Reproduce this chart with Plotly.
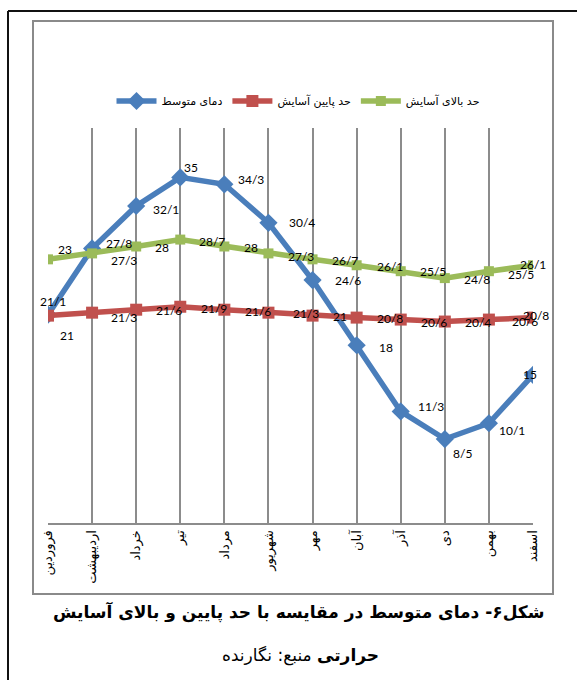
import plotly.graph_objects as go

# ---------------- data ----------------
months = ["فروردین", "اردیبهشت", "خرداد", "تیر", "مرداد", "شهریور",
          "مهر", "آبان", "آذر", "دی", "بهمن", "اسفند"]
mean_temp = [21.1, 27.8, 32.1, 35, 34.3, 30.4, 24.6, 18, 11.3, 8.5, 10.1, 15]
lower_comfort = [21, 21.3, 21.6, 21.9, 21.6, 21.3, 21, 20.8, 20.6, 20.4, 20.6, 20.8]
upper_comfort = [26.7, 27.3, 28, 28.7, 28, 27.3, 26.7, 26.1, 25.5, 24.8, 25.5, 26.1]

mean_labels = ["21/1", "27/8", "32/1", "35", "34/3", "30/4", "24/6", "18", "11/3", "8/5", "10/1", "15"]
lower_labels = ["21", "21/3", "21/6", "21/9", "21/6", "21/3", "21", "20/8", "20/6", "20/4", "20/6", "20/8"]
upper_labels = ["23", "27/3", "28", "28/7", "28", "27/3", "26/7", "26/1", "25/5", "24/8", "25/5", "26/1"]

series_names = ["دمای متوسط", "حد پایین آسایش", "حد بالای آسایش"]
caption_line1 = "شکل۶- دمای متوسط در مقایسه با حد پایین و بالای آسایش"
caption_line2 = "<b>حرارتی</b> منبع: نگارنده"

# ---------------- styles / positions ----------------
W, H = 577, 680
PL, PR, PT, PB = 48, 533, 128, 523  # plot area in pixels


def px(x):
    return (x - PL) / (PR - PL)


def py(y):
    return (PB - y) / (PB - PT)


BLUE, RED, GREEN = "#4A7EBB", "#C0504D", "#9BBB59"
GRID = "#8C8C8C"
AR_FONT = "DejaVu Sans"
NUM_FONT = "Lato"

# label offsets (dx, dy) in pixels from each point (dy positive = down)
mean_off = [(5, -13), (27, -5), (30, 3), (11, -10), (27, -5), (34, 0),
            (35, 0), (29, 2), (30, -5), (18, 14), (23, 7), (-3, 0)]
lower_off = [(19, 20), (32, 5), (33, 1), (34, 2), (34, 2), (38, 1),
             (27, 1), (33, 1), (33, 3), (33, 1), (36, 2), (3, -2)]
upper_off = [(17, -10), (32, 7), (26, 1), (32, 2), (27, 1), (33, 3),
             (32, 1), (33, 1), (32, 0), (32, 1), (32, 3), (0, -1)]

fig = go.Figure()
fig.add_trace(go.Scatter(x=months, y=mean_temp, name=series_names[0], mode="lines+markers",
                         line=dict(color=BLUE, width=5.5),
                         marker=dict(symbol="diamond", size=14, color=BLUE)))
fig.add_trace(go.Scatter(x=months, y=lower_comfort, name=series_names[1], mode="lines+markers",
                         line=dict(color=RED, width=5.5),
                         marker=dict(symbol="square", size=12, color=RED)))
fig.add_trace(go.Scatter(x=months, y=upper_comfort, name=series_names[2], mode="lines+markers",
                         line=dict(color=GREEN, width=5.5),
                         marker=dict(symbol="square", size=10, color=GREEN)))

annotations = []
for vals, labs, offs in [(upper_comfort, upper_labels, upper_off),
                         (lower_comfort, lower_labels, lower_off),
                         (mean_temp, mean_labels, mean_off)]:
    for m, v, t, (dx, dy) in zip(months, vals, labs, offs):
        annotations.append(dict(x=m, y=v, xref="x", yref="y", text=t, showarrow=False,
                                xshift=dx, yshift=-dy,
                                font=dict(family=NUM_FONT, size=12, color="#000")))

annotations.append(dict(x=px(298), y=py(612), xref="paper", yref="paper", text="<b>" + caption_line1 + "</b>",
                        showarrow=False, xanchor="center", yanchor="middle",
                        font=dict(family=AR_FONT, size=17, color="#000")))
annotations.append(dict(x=px(300), y=py(655), xref="paper", yref="paper", text=caption_line2,
                        showarrow=False, xanchor="center", yanchor="middle",
                        font=dict(family=AR_FONT, size=17, color="#000")))

shapes = [
    # inner gray chart frame
    dict(type="rect", xref="paper", yref="paper", x0=px(33), x1=px(553), y0=py(594), y1=py(21),
         line=dict(color="#8A8A8A", width=2), layer="below"),
    # outer black frame lines
    dict(type="line", xref="paper", yref="paper", x0=px(8), x1=px(8), y0=py(680), y1=py(11),
         line=dict(color="#111", width=2)),
    dict(type="line", xref="paper", yref="paper", x0=px(8), x1=px(577), y0=py(11), y1=py(11),
         line=dict(color="#111", width=2)),
]

fig.update_layout(
    width=W, height=H, autosize=False,
    margin=dict(l=PL, r=W - PR, t=PT, b=H - PB, pad=0),
    paper_bgcolor="white", plot_bgcolor="white",
    showlegend=True,
    legend=dict(orientation="h", x=px(298), xanchor="center", y=py(101), yanchor="middle",
                font=dict(family=AR_FONT, size=11, color="#000"),
                bgcolor="rgba(0,0,0,0)", itemwidth=40, tracegroupgap=0),
    xaxis=dict(type="category", range=[0, len(months) - 1], showgrid=True, gridcolor=GRID,
               gridwidth=2, showline=True, linecolor=GRID, linewidth=2, ticks="",
               tickangle=-90, tickfont=dict(family=AR_FONT, size=13, color="#000"),
               zeroline=False, fixedrange=True),
    yaxis=dict(range=[0, 40], visible=False, showgrid=False, zeroline=False, fixedrange=True),
    annotations=annotations,
    shapes=shapes,
)

fig.write_html("out.html", config={"displayModeBar": False},
               post_script="document.body.style.margin='0';")
